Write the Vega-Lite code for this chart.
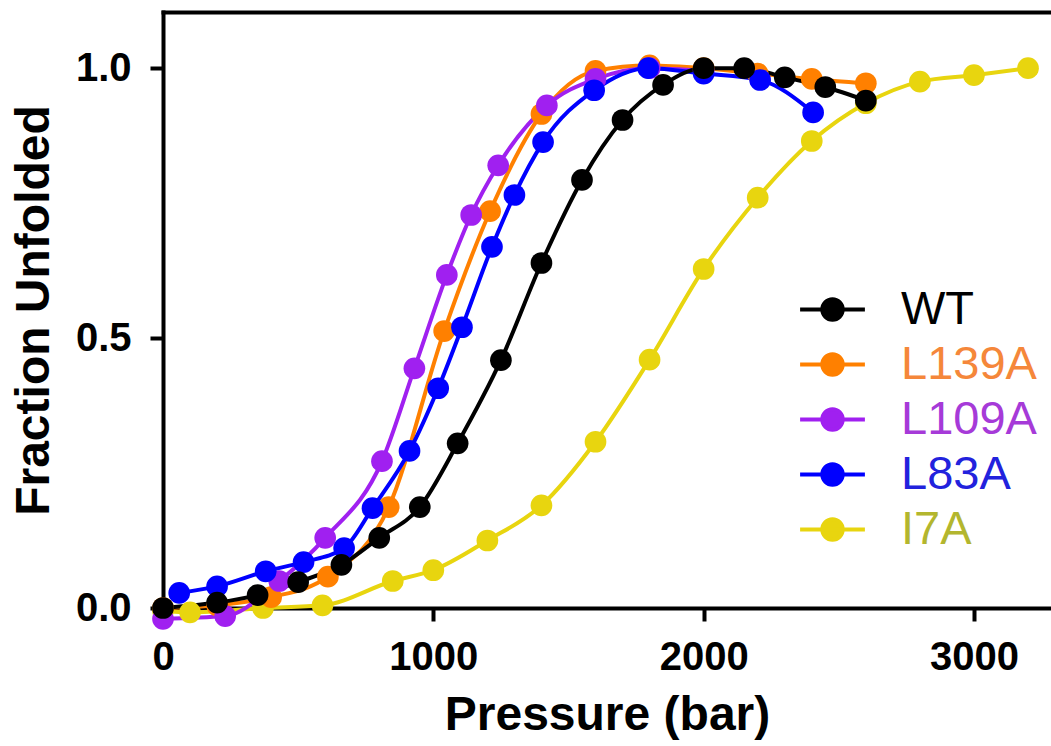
{
  "$schema": "https://vega.github.io/schema/vega-lite/v6.json",
  "autosize": "none",
  "padding": {"left": 163, "top": 12, "right": 0, "bottom": 138},
  "width": 888,
  "height": 596,
  "background": "white",
  "config": {
    "view": {"stroke": null},
    "axis": {
      "labelFont": "Liberation Sans",
      "titleFont": "Liberation Sans",
      "labelFontWeight": "bold",
      "titleFontWeight": "bold",
      "labelFontSize": 40,
      "titleFontSize": 48,
      "labelColor": "black",
      "titleColor": "black",
      "domainColor": "black",
      "tickColor": "black",
      "domainWidth": 4,
      "tickWidth": 4,
      "tickSize": 13,
      "domainCap": "square",
      "grid": false
    }
  },
  "data": {
    "values": [
      {"protein": "I7A", "pressure": 0, "fraction": -0.005},
      {"protein": "I7A", "pressure": 100, "fraction": -0.008},
      {"protein": "I7A", "pressure": 370, "fraction": 0.0},
      {"protein": "I7A", "pressure": 590, "fraction": 0.005},
      {"protein": "I7A", "pressure": 850, "fraction": 0.05},
      {"protein": "I7A", "pressure": 1000, "fraction": 0.07},
      {"protein": "I7A", "pressure": 1200, "fraction": 0.125},
      {"protein": "I7A", "pressure": 1400, "fraction": 0.19},
      {"protein": "I7A", "pressure": 1600, "fraction": 0.308},
      {"protein": "I7A", "pressure": 1800, "fraction": 0.46},
      {"protein": "I7A", "pressure": 2000, "fraction": 0.628},
      {"protein": "I7A", "pressure": 2200, "fraction": 0.76},
      {"protein": "I7A", "pressure": 2400, "fraction": 0.865},
      {"protein": "I7A", "pressure": 2600, "fraction": 0.935},
      {"protein": "I7A", "pressure": 2800, "fraction": 0.975},
      {"protein": "I7A", "pressure": 3000, "fraction": 0.987},
      {"protein": "I7A", "pressure": 3200, "fraction": 1.0},
      {"protein": "L139A", "pressure": 0, "fraction": 0.0},
      {"protein": "L139A", "pressure": 200, "fraction": 0.005},
      {"protein": "L139A", "pressure": 400, "fraction": 0.02},
      {"protein": "L139A", "pressure": 610, "fraction": 0.058},
      {"protein": "L139A", "pressure": 835, "fraction": 0.187},
      {"protein": "L139A", "pressure": 1040, "fraction": 0.513},
      {"protein": "L139A", "pressure": 1210, "fraction": 0.735},
      {"protein": "L139A", "pressure": 1400, "fraction": 0.915},
      {"protein": "L139A", "pressure": 1600, "fraction": 0.995},
      {"protein": "L139A", "pressure": 1800, "fraction": 1.005},
      {"protein": "L139A", "pressure": 2000, "fraction": 1.0},
      {"protein": "L139A", "pressure": 2200, "fraction": 0.99},
      {"protein": "L139A", "pressure": 2400, "fraction": 0.98},
      {"protein": "L139A", "pressure": 2600, "fraction": 0.972},
      {"protein": "L109A", "pressure": 0, "fraction": -0.02},
      {"protein": "L109A", "pressure": 230, "fraction": -0.015},
      {"protein": "L109A", "pressure": 430, "fraction": 0.05},
      {"protein": "L109A", "pressure": 600, "fraction": 0.13},
      {"protein": "L109A", "pressure": 810, "fraction": 0.272},
      {"protein": "L109A", "pressure": 930, "fraction": 0.444},
      {"protein": "L109A", "pressure": 1050, "fraction": 0.617},
      {"protein": "L109A", "pressure": 1140, "fraction": 0.728},
      {"protein": "L109A", "pressure": 1240, "fraction": 0.82},
      {"protein": "L109A", "pressure": 1420, "fraction": 0.931},
      {"protein": "L109A", "pressure": 1600, "fraction": 0.98},
      {"protein": "L109A", "pressure": 1800, "fraction": 1.0},
      {"protein": "L109A", "pressure": 2000, "fraction": 0.995},
      {"protein": "L83A", "pressure": 60, "fraction": 0.028},
      {"protein": "L83A", "pressure": 200, "fraction": 0.04},
      {"protein": "L83A", "pressure": 380, "fraction": 0.068},
      {"protein": "L83A", "pressure": 520, "fraction": 0.085},
      {"protein": "L83A", "pressure": 670, "fraction": 0.111},
      {"protein": "L83A", "pressure": 775, "fraction": 0.185},
      {"protein": "L83A", "pressure": 912, "fraction": 0.291},
      {"protein": "L83A", "pressure": 1018, "fraction": 0.407},
      {"protein": "L83A", "pressure": 1106, "fraction": 0.52},
      {"protein": "L83A", "pressure": 1217, "fraction": 0.669},
      {"protein": "L83A", "pressure": 1300, "fraction": 0.765},
      {"protein": "L83A", "pressure": 1406, "fraction": 0.863},
      {"protein": "L83A", "pressure": 1595, "fraction": 0.959},
      {"protein": "L83A", "pressure": 1795, "fraction": 1.0},
      {"protein": "L83A", "pressure": 2000, "fraction": 0.99},
      {"protein": "L83A", "pressure": 2209, "fraction": 0.978},
      {"protein": "L83A", "pressure": 2405, "fraction": 0.918},
      {"protein": "WT", "pressure": 0, "fraction": 0.0},
      {"protein": "WT", "pressure": 200, "fraction": 0.01},
      {"protein": "WT", "pressure": 350, "fraction": 0.024},
      {"protein": "WT", "pressure": 500, "fraction": 0.048},
      {"protein": "WT", "pressure": 660, "fraction": 0.08},
      {"protein": "WT", "pressure": 800, "fraction": 0.13},
      {"protein": "WT", "pressure": 950, "fraction": 0.187},
      {"protein": "WT", "pressure": 1090, "fraction": 0.305},
      {"protein": "WT", "pressure": 1250, "fraction": 0.459},
      {"protein": "WT", "pressure": 1400, "fraction": 0.639},
      {"protein": "WT", "pressure": 1550, "fraction": 0.793},
      {"protein": "WT", "pressure": 1700, "fraction": 0.904},
      {"protein": "WT", "pressure": 1850, "fraction": 0.969},
      {"protein": "WT", "pressure": 2000, "fraction": 1.0},
      {"protein": "WT", "pressure": 2150, "fraction": 1.0},
      {"protein": "WT", "pressure": 2300, "fraction": 0.983},
      {"protein": "WT", "pressure": 2450, "fraction": 0.965},
      {"protein": "WT", "pressure": 2600, "fraction": 0.94}
    ]
  },
  "layer": [
    {
      "mark": {"type": "line", "interpolate": "monotone", "strokeWidth": 4},
      "encoding": {
        "x": {
          "field": "pressure", "type": "quantitative",
          "scale": {"domain": [0, 3285], "nice": false, "zero": false},
          "axis": {"orient": "bottom", "values": [0, 1000, 2000, 3000], "format": "d", "title": "Pressure (bar)", "labelPadding": 16, "titlePadding": 14, "labelFlush": false}
        },
        "y": {
          "field": "fraction", "type": "quantitative",
          "scale": {"domain": [0, 1.104], "nice": false, "zero": false},
          "axis": {"orient": "left", "values": [0, 0.5, 1], "format": ".1f", "title": "Fraction Unfolded", "labelPadding": 19, "titlePadding": 17}
        },
        "color": {
          "field": "protein", "type": "nominal",
          "scale": {"domain": ["WT", "L139A", "L109A", "L83A", "I7A"], "range": ["#000000", "#ff8000", "#a020f0", "#0000ff", "#e8d50f"]},
          "legend": null
        }
      }
    },
    {
      "mark": {"type": "point", "filled": true, "size": 470, "opacity": 1, "strokeWidth": 0},
      "encoding": {
        "x": {
          "field": "pressure", "type": "quantitative",
          "axis": {"orient": "top", "labels": false, "ticks": false, "title": null, "domain": true}
        },
        "y": {"field": "fraction", "type": "quantitative", "axis": null},
        "color": {
          "field": "protein", "type": "nominal",
          "legend": {
            "orient": "none", "legendX": 646, "legendY": 274, "title": null,
            "symbolType": "M-0.85,0A0.85,0.85,0,1,1,0.85,0A0.85,0.85,0,1,1,-0.85,0Z M-2.7,0L2.7,0",
            "symbolSize": 576, "symbolStrokeWidth": 4, "symbolOpacity": 1,
            "labelFont": "Liberation Sans", "labelFontSize": 47, "labelOffset": 45,
            "rowPadding": 7, "padding": 0,
            "encode": {
              "symbols": {"update": {"fill": {"scale": "color", "field": "value"}, "stroke": {"scale": "color", "field": "value"}, "opacity": {"value": 1}}},
              "labels": {"update": {"fill": {"signal": "datum.value === 'I7A' ? '#b3b62e' : datum.value === 'L139A' ? '#f5873a' : datum.value === 'L109A' ? '#a63ad8' : datum.value === 'L83A' ? '#2222dd' : '#000000'"}}}
            }
          }
        }
      }
    }
  ],
  "resolve": {"axis": {"x": "independent", "y": "independent"}, "legend": {"color": "independent"}}
}
